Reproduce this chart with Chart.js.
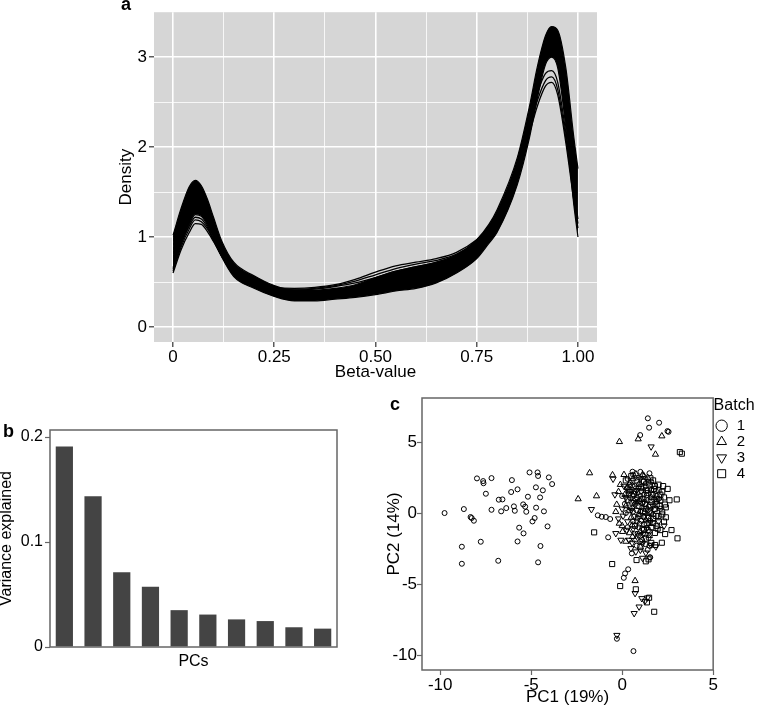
<!DOCTYPE html>
<html>
<head>
<meta charset="utf-8">
<script src="https://cdn.jsdelivr.net/npm/chart.js@4.4.0/dist/chart.umd.min.js"></script>
<style>
body{margin:0;background:#fff;width:764px;height:709px;overflow:hidden;position:relative;font-family:"Liberation Sans",Arial,sans-serif;}
canvas{position:absolute;}
.tag{position:absolute;font-weight:bold;font-size:18px;line-height:20px;}
</style>
</head>
<body>
<canvas id="densChart" style="left:110px;top:0px" width="500" height="385"></canvas>
<canvas id="varChart" style="left:-4px;top:380px" width="354" height="300"></canvas>
<canvas id="pcaChart" style="left:380px;top:385px" width="384" height="324"></canvas>
<div class="tag" style="left:121px;top:-6px">a</div>
<div class="tag" style="left:3px;top:421px">b</div>
<div class="tag" style="left:390px;top:394px">c</div>
<script>
// ---- panel a : beta-value densities (band envelope + a few outlying samples)
const betaX = [0, 0.02, 0.04, 0.055, 0.07, 0.085, 0.10, 0.12, 0.15, 0.20, 0.25, 0.30, 0.35, 0.40, 0.45, 0.50, 0.55, 0.60, 0.65, 0.70, 0.75, 0.78, 0.80, 0.85, 0.88, 0.90, 0.92, 0.935, 0.95, 0.97, 0.99, 1.0];
const densUpper = [1.02, 1.32, 1.56, 1.63, 1.57, 1.42, 1.22, 0.96, 0.72, 0.57, 0.46, 0.41, 0.41, 0.43, 0.47, 0.55, 0.62, 0.67, 0.72, 0.80, 0.97, 1.14, 1.30, 1.88, 2.45, 2.90, 3.24, 3.34, 3.30, 2.88, 2.10, 1.76];
const densLower = [0.66, 0.92, 1.14, 1.25, 1.23, 1.13, 0.98, 0.78, 0.56, 0.43, 0.34, 0.29, 0.29, 0.31, 0.33, 0.36, 0.40, 0.43, 0.49, 0.60, 0.76, 0.93, 1.05, 1.58, 2.10, 2.55, 2.92, 3.00, 2.88, 2.22, 1.35, 1.00];
const densOut1 = [0.60, 0.86, 1.05, 1.15, 1.14, 1.06, 0.95, 0.79, 0.60, 0.48, 0.43, 0.42, 0.43, 0.46, 0.51, 0.58, 0.65, 0.70, 0.74, 0.81, 0.95, 1.08, 1.20, 1.70, 2.15, 2.46, 2.68, 2.72, 2.58, 2.05, 1.40, 1.10];
const densOut2 = [0.62, 0.89, 1.09, 1.19, 1.17, 1.09, 0.96, 0.79, 0.60, 0.48, 0.44, 0.43, 0.44, 0.47, 0.53, 0.61, 0.68, 0.72, 0.76, 0.83, 0.97, 1.10, 1.22, 1.73, 2.20, 2.52, 2.74, 2.78, 2.64, 2.10, 1.45, 1.15];
const densOut3 = [0.64, 0.92, 1.12, 1.22, 1.20, 1.11, 0.97, 0.79, 0.59, 0.47, 0.42, 0.41, 0.42, 0.45, 0.49, 0.55, 0.62, 0.67, 0.72, 0.80, 0.96, 1.12, 1.25, 1.78, 2.26, 2.60, 2.82, 2.85, 2.72, 2.16, 1.50, 1.20];
const aXTicks = [0, 0.125, 0.25, 0.375, 0.5, 0.625, 0.75, 0.875, 1];
const aYTicks = [0, 0.5, 1, 1.5, 2, 2.5, 3];

// ---- panel b : variance explained by the first PCs
const pcLabels = ['PC1', 'PC2', 'PC3', 'PC4', 'PC5', 'PC6', 'PC7', 'PC8', 'PC9', 'PC10'];
const varExplained = [0.191, 0.1435, 0.0711, 0.0574, 0.0351, 0.0309, 0.0263, 0.0247, 0.0188, 0.0175];
const bYTicks = [0, 0.1, 0.2];

// ---- panel c : PC1 vs PC2, one list per batch
const batch1 = [
  [-9.76,0.0],[-8.70,0.28],[-8.33,-0.28],[-8.27,-0.35],[-8.15,-0.54],[-8.81,-2.37],[-8.81,-3.57],[-7.98,2.44],[-7.64,2.25],[-7.62,2.10],
  [-7.18,2.46],[-7.49,1.36],[-7.77,-2.02],[-6.81,-3.36],[-7.18,0.23],[-6.78,0.94],[-6.58,0.96],[-6.65,0.12],[-6.37,0.35],[-6.06,2.32],
  [-6.10,1.48],[-5.95,0.47],[-5.90,0.16],[-5.75,1.67],[-5.66,-1.03],[-5.75,-2.0],[-5.42,-1.43],[-5.44,0.61],[-5.33,0.45],[-5.27,0.09],
  [-5.18,1.15],[-5.09,2.86],[-4.81,-0.35],[-4.93,-0.59],[-4.74,1.81],[-4.65,2.86],[-4.62,2.61],[-4.73,0.38],[-4.51,1.10],[-4.36,1.60],
  [-4.30,0.12],[-4.49,-2.32],[-4.62,-3.47],[-4.10,-0.94],[-4.03,2.51],[-3.85,2.04],
  [1.41,6.67],[2.03,6.36],[1.48,6.01],[2.49,5.77],[2.55,5.72],[0.99,5.49],[0.57,2.91],[-1.34,-0.16],[-1.12,-0.26],[-0.90,-0.28],
  [-0.66,-0.42],[-0.77,-1.71],[1.52,-3.12],[0.33,-3.96],[0.16,-4.25],[0.09,-4.56],[-0.29,-8.85],[0.62,-9.72],[0.53,-2.84],[1.54,-3.12],
  [0.4,2.0],[0.7,1.5],[1.0,1.2],[1.3,1.9],[1.6,1.6],[0.5,0.8],[0.8,0.2],[1.1,0.4],[1.4,0.9],[1.9,1.2],
  [0.2,0.0],[0.6,-0.6],[0.9,-1.0],[1.2,-0.8],[1.5,-1.3],[1.1,-1.9],[0.8,-2.3],[1.4,-2.6],[0.0,1.2],[0.3,-1.0],
  [1.7,-0.1],[2.1,0.3],[0.6,2.7],[1.0,2.9],[1.5,2.8],[0.35,1.35],[0.95,0.85],[1.25,0.05],[0.65,-0.25],[1.05,-0.55],
  [1.35,-1.05],[1.75,0.25],[0.55,1.95],[1.15,2.25],[1.85,1.55],[0.15,0.65],[0.85,-1.45],[1.45,-1.75],[1.0,-2.0],[0.45,1.05],
  [0.75,0.95],[1.05,1.55],[1.35,1.25],[1.65,1.95],[0.25,1.75],[0.55,0.35],[0.85,-0.35],[1.15,-0.25],[1.45,0.45],[1.75,0.95],
  [0.95,-0.75],[1.25,-1.45],[1.55,-0.55],[0.7,0.6],[1.2,1.3],[0.9,1.8],[1.6,0.0],[1.3,-2.2],[1.0,0.1],
  [0.5,1.5],[0.8,1.1],[1.1,0.7],[1.4,1.6],[1.7,1.3],[0.6,0.1],[0.9,2.5],[1.3,2.1],[0.4,0.4],[1.2,-0.3],
  [1.5,-2.3],[1.0,-1.6],[0.7,1.9],[1.6,2.2],[1.9,0.8],[0.3,2.4],[1.1,-1.1],[0.8,-0.6],[1.4,0.2],[2.0,1.0]
];
const batch2 = [
  [-0.15,5.02],[0.88,5.21],[2.18,5.42],[1.83,4.13],[-1.79,2.82],[-2.42,0.99],[-1.41,1.20],[0.71,-4.77],[1.12,2.70],[-0.53,2.68],
  [-0.35,0.09],[-0.16,-0.73],[0.02,-1.31],[0.57,-1.67],[0.3,1.8],[0.6,1.2],[0.9,2.0],[0.2,0.5],[0.5,-0.3],[0.8,0.7],
  [1.1,1.7],[1.4,2.5],[1.3,-0.5],[0.0,-0.9],[0.4,-1.4],[0.7,-1.9],[1.0,-1.3],[1.6,1.1],[-0.2,1.5],[0.1,2.7],
  [1.2,2.6],[0.6,2.4],[-0.3,0.6],[0.9,-0.1],[1.5,-1.6],[0.2,-2.0],
  [0.45,2.15],[0.75,2.75],[0.15,1.3],[0.35,0.15],[1.05,0.95],[0.55,-0.85],[-0.1,2.0],[0.85,1.45]
];
const batch3 = [
  [1.59,4.67],[-1.69,0.26],[0.71,-5.65],[1.08,-6.01],[1.25,-6.2],[1.39,-5.96],[0.93,-6.6],[0.66,-7.06],[-0.29,-8.6],[1.12,-3.17],
  [-0.4,1.3],[-0.5,2.4],[-0.35,-1.43],[-0.07,-1.9],[0.38,-1.9],[1.12,-2.14],[0.48,-2.49],[0.75,-2.72],[1.58,-2.25],[1.85,-2.37],
  [0.2,1.1],[0.5,0.2],[0.8,1.6],[1.2,0.8],[1.0,2.4],[0.0,0.3],[0.3,-0.6],[0.6,-1.1],[1.4,-0.2],[1.7,0.5],
  [2.0,-0.6],[0.9,-1.6],[1.3,-2.8],[0.1,1.9],[2.3,-0.9],[-0.2,-0.4],
  [0.25,-1.2],[0.7,-1.45],[1.0,-2.6],[0.55,-2.1],[0.35,1.55],[0.65,0.75],[1.15,-1.5],[0.05,-0.2]
];
const batch4 = [
  [1.2,2.2],[1.5,2.0],[1.8,1.9],[2.0,1.6],[2.2,1.5],[2.3,1.1],[2.5,1.7],[2.1,0.9],[1.9,0.6],[2.4,0.4],
  [2.2,0.1],[2.0,-0.2],[1.7,-0.4],[2.3,-0.6],[1.9,-0.9],[2.1,-1.2],[1.6,-1.0],[1.4,1.4],[1.1,1.0],[1.6,0.8],
  [1.3,0.3],[0.9,0.5],[1.0,-0.2],[1.5,-0.7],[1.8,-1.4],[1.3,-1.8],[1.6,-2.1],[0.2,2.3],[0.5,2.6],[0.8,2.3],
  [0.4,1.6],[1.7,2.3],[2.6,0.9],[1.2,-1.2],[1.5,0.1],[2.0,2.0],[0.3,0.9],[0.7,-0.9],[1.0,-2.4],[2.4,-0.3],
  [1.8,0.3],[2.2,-0.1],[1.9,1.0],[1.6,1.3],[2.1,1.3],[1.7,-0.7],[1.4,-1.2],[1.25,0.65],[1.55,2.45],[2.35,0.6],
  [1.3,1.6],[1.75,1.7],[2.05,0.5],[1.55,0.55],[1.15,0.15],[1.85,-0.2],[1.45,-0.35],[2.25,1.9],[1.05,1.85],[0.65,1.35],
  [1.35,-0.75],[1.95,-1.1],
  [3.0,0.96],[2.36,-1.48],[2.71,-1.2],[3.04,-1.78],[2.18,-2.09],[1.81,-2.25],[-1.54,-1.36],[-0.55,-3.59],[-0.11,-5.14],[0.75,-5.37],
  [1.36,-6.29],[1.48,-5.96],[1.76,-6.95],[1.45,-3.26],[1.30,-3.40],[0.79,-3.31],[3.17,4.29],[3.28,4.18]
];
const cTicks = [-10, -5, 0, 5];

Chart.defaults.font.family = '"Liberation Sans", Arial, sans-serif';
Chart.defaults.color = '#000';
Chart.defaults.animation = false;

function pts(xs, ys) {
  return xs.map((x, i) => ({x: x, y: ys[i]}));
}
function pairs(list) {
  return list.map(p => ({x: p[0], y: p[1]}));
}
function fixTicks(vals) {
  return function(axis) { axis.ticks = vals.map(v => ({value: v})); };
}
function isWhole(v, step) {
  return Math.abs(v / step - Math.round(v / step)) < 1e-6;
}

const panelBg = {
  id: 'panelBg',
  beforeDraw(chart) {
    const a = chart.chartArea, c = chart.ctx;
    c.save();
    c.fillStyle = '#d6d6d6';
    c.fillRect(a.left, a.top, a.right - a.left, a.bottom - a.top);
    c.restore();
  }
};
const frame = {
  id: 'frame',
  afterDraw(chart) {
    const a = chart.chartArea, c = chart.ctx;
    c.save();
    c.strokeStyle = '#666';
    c.lineWidth = 1.5;
    c.strokeRect(a.left, a.top, a.right - a.left, a.bottom - a.top);
    c.restore();
  }
};

// panel a
const lineBase = {borderColor: '#000', pointRadius: 0, cubicInterpolationMode: 'monotone', fill: false};
new Chart(document.getElementById('densChart'), {
  type: 'line',
  data: {
    datasets: [
      Object.assign({}, lineBase, {data: pts(betaX, densUpper), borderWidth: 1.2}),
      Object.assign({}, lineBase, {data: pts(betaX, densLower), borderWidth: 1.2, fill: '-1', backgroundColor: '#000'}),
      Object.assign({}, lineBase, {data: pts(betaX, densOut1), borderWidth: 1.3}),
      Object.assign({}, lineBase, {data: pts(betaX, densOut2), borderWidth: 1.3}),
      Object.assign({}, lineBase, {data: pts(betaX, densOut3), borderWidth: 1.3})
    ]
  },
  options: {
    responsive: false,
    layout: {padding: {top: 2, right: 13, left: 0, bottom: 0}},
    plugins: {legend: {display: false}, tooltip: {enabled: false}},
    scales: {
      x: {
        type: 'linear', min: -0.047, max: 1.047,
        afterBuildTicks: fixTicks(aXTicks),
        afterFit: axis => { axis.height = 43; },
        border: {display: false},
        grid: {
          color: '#fff',
          lineWidth: ctx => (ctx.tick && isWhole(ctx.tick.value, 0.25)) ? 1.6 : 0.8,
          tickColor: ctx => (ctx.tick && isWhole(ctx.tick.value, 0.25)) ? '#333' : 'rgba(0,0,0,0)',
          tickWidth: 1.2, tickLength: 5
        },
        ticks: {
          padding: 0, maxRotation: 0, autoSkip: false, font: {size: 17},
          callback: v => !isWhole(v, 0.25) ? '' : (v === 0 ? '0' : v.toFixed(2))
        },
        title: {display: true, text: 'Beta-value', font: {size: 17}, padding: {bottom: 2}}
      },
      y: {
        min: -0.167, max: 3.5,
        afterBuildTicks: fixTicks(aYTicks),
        afterFit: axis => { axis.width = 44; },
        border: {display: false},
        grid: {
          color: '#fff',
          lineWidth: ctx => (ctx.tick && isWhole(ctx.tick.value, 1)) ? 1.6 : 0.8,
          tickColor: ctx => (ctx.tick && isWhole(ctx.tick.value, 1)) ? '#333' : 'rgba(0,0,0,0)',
          tickWidth: 1.2, tickLength: 5
        },
        ticks: {
          padding: 2, autoSkip: false, font: {size: 17},
          callback: v => isWhole(v, 1) ? String(v) : ''
        },
        title: {display: true, text: 'Density', font: {size: 17}, padding: {top: 6}}
      }
    }
  },
  plugins: [panelBg]
});

// panel b
new Chart(document.getElementById('varChart'), {
  type: 'bar',
  data: {
    labels: pcLabels,
    datasets: [{data: varExplained, backgroundColor: '#444', barPercentage: 0.6, categoryPercentage: 1.0}]
  },
  options: {
    responsive: false,
    layout: {padding: {top: 50, right: 13, left: 0, bottom: 0}},
    plugins: {legend: {display: false}, tooltip: {enabled: false}},
    scales: {
      x: {
        afterFit: axis => { axis.height = 33; },
        border: {display: false},
        grid: {display: false},
        ticks: {display: false},
        title: {display: true, text: 'PCs', font: {size: 16}, padding: {bottom: 9}}
      },
      y: {
        min: 0, max: 0.2067,
        afterBuildTicks: fixTicks(bYTicks),
        afterFit: axis => { axis.width = 54; },
        border: {display: false},
        grid: {drawOnChartArea: false, tickColor: '#666', tickWidth: 1.2, tickLength: 5},
        ticks: {padding: 2, font: {size: 16}, callback: v => v === 0 ? '0' : v.toFixed(1)},
        title: {display: true, text: 'Variance explained', font: {size: 16}, padding: {top: 1}}
      }
    }
  },
  plugins: [frame]
});

// panel c
const ptBase = {borderColor: '#000', backgroundColor: 'rgba(0,0,0,0)', pointBorderWidth: 1, borderWidth: 1};
new Chart(document.getElementById('pcaChart'), {
  type: 'scatter',
  data: {
    datasets: [
      Object.assign({}, ptBase, {label: '1', data: pairs(batch1), pointStyle: 'circle', pointRadius: 2.5}),
      Object.assign({}, ptBase, {label: '2', data: pairs(batch2), pointStyle: 'triangle', pointRadius: 3.6}),
      Object.assign({}, ptBase, {label: '3', data: pairs(batch3), pointStyle: 'triangle', rotation: 180, pointRotation: 180, pointRadius: 3.6}),
      Object.assign({}, ptBase, {label: '4', data: pairs(batch4), pointStyle: 'rect', pointRadius: 3.6})
    ]
  },
  options: {
    responsive: false,
    layout: {padding: {top: 13, right: 9, left: 0, bottom: 0}},
    plugins: {
      tooltip: {enabled: false},
      legend: {
        position: 'right', align: 'start',
        title: {display: true, text: 'Batch', font: {size: 16}, padding: 0},
        labels: {usePointStyle: true, boxHeight: 8, boxWidth: 19, padding: 1, font: {size: 15}, color: '#000'}
      }
    },
    scales: {
      x: {
        type: 'linear', min: -11, max: 5,
        afterBuildTicks: fixTicks(cTicks),
        afterFit: axis => { axis.height = 39; },
        border: {display: false},
        grid: {drawOnChartArea: false, tickColor: '#666', tickWidth: 1.2, tickLength: 5},
        ticks: {padding: 0, font: {size: 17}, callback: v => String(v)},
        title: {display: true, text: 'PC1 (19%)', font: {size: 17}, padding: {bottom: 1}}
      },
      y: {
        min: -11.05, max: 8.1,
        afterBuildTicks: fixTicks(cTicks),
        afterFit: axis => { axis.width = 42; },
        border: {display: false},
        grid: {drawOnChartArea: false, tickColor: '#666', tickWidth: 1.2, tickLength: 5},
        ticks: {padding: 0, font: {size: 17}, callback: v => String(v)},
        title: {display: true, text: 'PC2 (14%)', font: {size: 17}, padding: {top: 4}}
      }
    }
  },
  plugins: [frame]
});
</script>
</body>
</html>
